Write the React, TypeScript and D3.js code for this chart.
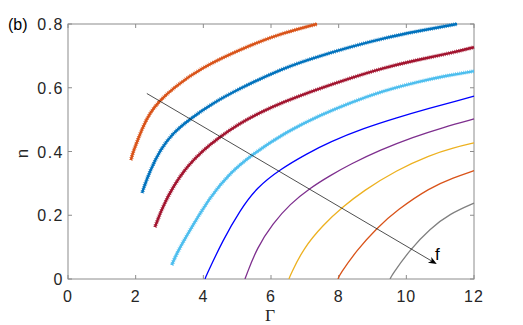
import React from "react";
import * as d3 from "d3";

// marker series ('+' markers)
const orangeMk = [
    [1.86, 0.373], [1.9, 0.39], [1.98, 0.414], [2.19, 0.472], [2.42, 0.522], [2.72, 0.56],
    [3.07, 0.595], [3.9, 0.662], [5.38, 0.734], [6.36, 0.772], [7.36, 0.8],
];
const blueMk = [
    [2.19, 0.27], [2.25, 0.29], [2.42, 0.338], [2.72, 0.405], [3.1, 0.458], [3.6, 0.502],
    [4.29, 0.552], [4.98, 0.593], [6.36, 0.662], [7.36, 0.697], [8.34, 0.728],
    [9.31, 0.755], [10.3, 0.777], [11.5, 0.8],
];
const redMk = [
    [2.57, 0.163], [2.63, 0.18], [2.8, 0.226], [3.1, 0.289], [3.5, 0.351], [4.0, 0.405],
    [4.49, 0.446], [5.08, 0.489], [5.67, 0.522], [6.36, 0.555], [7.36, 0.595],
    [8.34, 0.63], [9.31, 0.662], [10.3, 0.687], [11.29, 0.708], [12, 0.727],
];
const cyanMk = [
    [3.07, 0.044], [3.12, 0.058], [3.31, 0.1], [3.7, 0.17], [4.2, 0.257], [4.79, 0.333],
    [5.47, 0.393], [6.46, 0.462], [7.45, 0.514], [8.34, 0.553], [9.31, 0.59],
    [10.3, 0.618], [11.29, 0.64], [12, 0.652],
];

// solid series
const blueLn = [
    [4.05, 0], [4.1, 0.014], [4.58, 0.122], [5.08, 0.215], [5.58, 0.287], [6.27, 0.344],
    [7.06, 0.393], [7.74, 0.43], [8.72, 0.472], [9.72, 0.506], [10.7, 0.536],
    [11.53, 0.56], [12, 0.574],
];
const purpleLn = [
    [5.23, 0], [5.28, 0.014], [5.58, 0.097], [6.06, 0.175], [6.56, 0.235], [7.15, 0.285],
    [7.74, 0.324], [8.34, 0.36], [9.23, 0.405], [10.2, 0.445], [11.1, 0.476], [12, 0.502],
];
const yellowLn = [
    [6.53, 0], [6.58, 0.014], [6.95, 0.095], [7.54, 0.17], [8.13, 0.227], [8.72, 0.276],
    [9.72, 0.342], [10.7, 0.389], [11.4, 0.412], [12, 0.427],
];
const orangeLn = [
    [7.98, 0], [8.03, 0.014], [8.54, 0.091], [9.13, 0.16], [9.72, 0.216], [10.7, 0.287],
    [11.4, 0.318], [12, 0.34],
];
const grayLn = [
    [9.52, 0], [9.57, 0.012], [10.1, 0.091], [10.7, 0.158], [11.29, 0.205], [12, 0.238],
];

const markerSeries = [
    { data: orangeMk, color: "#D95319" },
    { data: blueMk, color: "#0072BD" },
    { data: redMk, color: "#A2142F" },
    { data: cyanMk, color: "#4DBEEE" },
];
const lineSeries = [
    { data: blueLn, color: "#0000FF" },
    { data: purpleLn, color: "#7E2F8E" },
    { data: yellowLn, color: "#EDB120" },
    { data: orangeLn, color: "#D95319" },
    { data: grayLn, color: "#808080" },
];

const arrowPts = [[2.33, 0.582], [10.9, 0.047]];
const xTicks = [0, 2, 4, 6, 8, 10, 12];
const yTicks = [0, 0.2, 0.4, 0.6, 0.8];

const W = 523;
const H = 325;
const left = 68, right = 474, top = 24, bottom = 279;
const font = "'Liberation Sans', Arial, sans-serif";

const App = () => {
    const x = d3.scaleLinear().domain([0, 12]).range([left, right]);
    const y = d3.scaleLinear().domain([0, 0.8]).range([bottom, top]);
    const line = d3
        .line<number[]>()
        .x((d) => x(d[0]))
        .y((d) => y(d[1]))
        .curve(d3.curveBasis);
    const axisColor = "#8c8c8c";
    const [a0, a1] = arrowPts;
    const ang = Math.atan2(y(a1[1]) - y(a0[1]), x(a1[0]) - x(a0[0]));
    const tx = x(a1[0]), ty = y(a1[1]);
    const head = [
        [tx, ty],
        [tx - 9 * Math.cos(ang - 0.38), ty - 9 * Math.sin(ang - 0.38)],
        [tx - 6 * Math.cos(ang), ty - 6 * Math.sin(ang)],
        [tx - 9 * Math.cos(ang + 0.38), ty - 9 * Math.sin(ang + 0.38)],
    ];
    return (
        <svg width={W} height={H} style={{ position: "absolute", left: 0, top: 0, background: "#fff" }}>
            <defs>
                <clipPath id="plot">
                    <rect x={left} y={top - 3} width={right - left + 3} height={bottom - top + 3} />
                </clipPath>
            </defs>
            <rect x={left} y={top} width={right - left} height={bottom - top} fill="none" stroke={axisColor} strokeWidth={1} />
            {xTicks.map((t) => (
                <g key={"x" + t}>
                    <line x1={x(t)} x2={x(t)} y1={bottom} y2={bottom - 4} stroke={axisColor} />
                    <line x1={x(t)} x2={x(t)} y1={top} y2={top + 4} stroke={axisColor} />
                    <text x={x(t)} y={bottom + 23} textAnchor="middle" fontFamily={font} fontSize={16} letterSpacing={1} fill="#262626">
                        {t}
                    </text>
                </g>
            ))}
            {yTicks.map((t) => (
                <g key={"y" + t}>
                    <line x1={left} x2={left + 4} y1={y(t)} y2={y(t)} stroke={axisColor} />
                    <line x1={right} x2={right - 4} y1={y(t)} y2={y(t)} stroke={axisColor} />
                    <text x={left - 4} y={y(t) + 6} textAnchor="end" fontFamily={font} fontSize={16} letterSpacing={1.5} fill="#262626">
                        {t === 0 ? "0" : t.toFixed(1)}
                    </text>
                </g>
            ))}
            <g clipPath="url(#plot)">
                {lineSeries.map((s, i) => (
                    <path key={"l" + i} d={line(s.data) || ""} fill="none" stroke={s.color} strokeWidth={1.3} />
                ))}
                {markerSeries.map((s, i) => (
                    <g key={"m" + i}>
                        <path d={line(s.data) || ""} fill="none" stroke={s.color} strokeWidth={2.4} />
                        <path d={line(s.data) || ""} fill="none" stroke={s.color} strokeWidth={4.2} strokeDasharray="0.7 1.3" opacity={0.85} />
                    </g>
                ))}
            </g>
            <line x1={x(a0[0])} y1={y(a0[1])} x2={tx - 4 * Math.cos(ang)} y2={ty - 4 * Math.sin(ang)} stroke="#222" strokeWidth={0.8} />
            <path d={"M" + head.map((p) => p.join(",")).join("L") + "Z"} fill="#000" />
            <text x={435} y={260} fontFamily={font} fontSize={17} fill="#000">f</text>
            <text x={8} y={30} fontFamily={font} fontSize={16} fill="#000">(b)</text>
            <text x={270} y={321} textAnchor="middle" fontFamily="'Liberation Serif', 'DejaVu Serif', serif" fontSize={17.5} fill="#262626">
                Γ
            </text>
            <text transform={`translate(28,${(top + bottom) / 2 + 2}) rotate(-90)`} textAnchor="middle" fontFamily={font} fontSize={17} fill="#262626">
                n
            </text>
        </svg>
    );
};

export default App;
